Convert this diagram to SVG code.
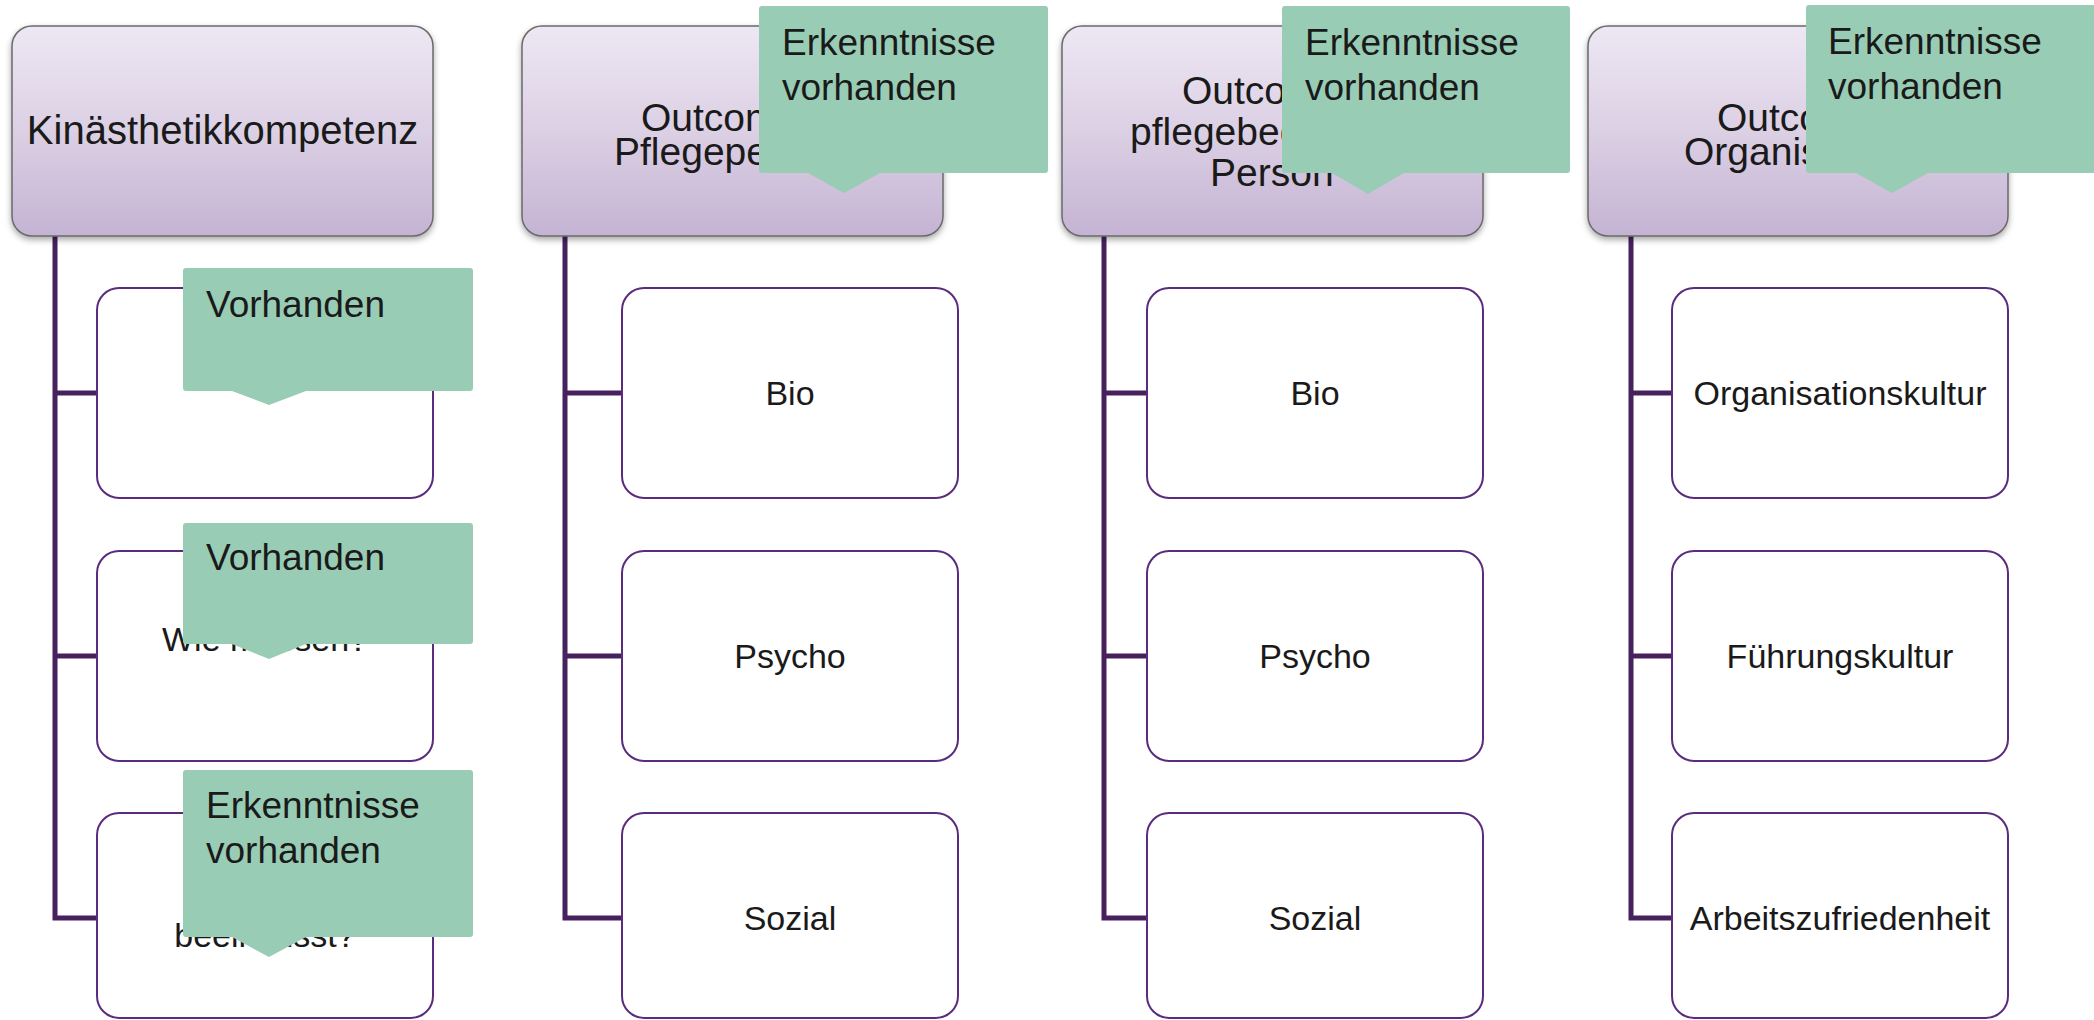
<svg xmlns="http://www.w3.org/2000/svg" width="2094" height="1020" viewBox="0 0 2094 1020">
<defs>
<linearGradient id="hdrGrad" x1="0" y1="0" x2="0" y2="1">
<stop offset="0" stop-color="#EDE7F3"/>
<stop offset="0.5" stop-color="#DCD0E4"/>
<stop offset="1" stop-color="#C4B3D3"/>
</linearGradient>
<filter id="shadow" x="-10%" y="-10%" width="120%" height="130%">
<feDropShadow dx="0" dy="3" stdDeviation="3" flood-color="#000" flood-opacity="0.35"/>
</filter>
<style>
.hdr{fill:url(#hdrGrad);stroke:#6A6A6A;stroke-width:1.5;filter:url(#shadow)}
.child{fill:#FFFFFF;stroke:#5B2C7E;stroke-width:2}
.conn{fill:none;stroke:#47205E;stroke-width:5;stroke-linejoin:miter}
.call{fill:#99CCB5}
text{font-family:"Liberation Sans",Arial,sans-serif;fill:#1A1A1A}
.ht{font-size:39px}
.ht1{font-size:40px}
.ct{font-size:34px;text-anchor:middle}
.lt{font-size:37px}
</style>
</defs>
<rect width="2094" height="1020" fill="#FFFFFF"/>

<g id="connectors">
<path class="conn" d="M55 236 V918 H97 M55 393 H97 M55 656 H97"/>
<path class="conn" d="M565 236 V918 H622 M565 393 H622 M565 656 H622"/>
<path class="conn" d="M1104 236 V918 H1147 M1104 393 H1147 M1104 656 H1147"/>
<path class="conn" d="M1631 236 V918 H1672 M1631 393 H1672 M1631 656 H1672"/>
</g>

<g id="header1"><rect class="hdr" x="12" y="26" width="421" height="210" rx="20"/><text class="ht1" x="222.5" y="144" text-anchor="middle">Kinästhetikkompetenz</text></g>
<g id="header2"><rect class="hdr" x="522" y="26" width="421" height="210" rx="20"/><text class="ht" x="641" y="131">Outcome</text><text class="ht" x="614" y="165">Pflegepersonal</text></g>
<g id="header3"><rect class="hdr" x="1062" y="26" width="421" height="210" rx="20"/><text class="ht" x="1182" y="104">Outcome</text><text class="ht" x="1130" y="145">pflegebedürftige</text><text class="ht" x="1210" y="186">Person</text></g>
<g id="header4"><rect class="hdr" x="1588" y="26" width="420" height="210" rx="20"/><text class="ht" x="1717" y="131">Outcome</text><text class="ht" x="1684" y="165">Organisation</text></g>

<g id="c1b1"><rect class="child" x="97" y="288" width="336" height="210" rx="22"/></g>
<g id="c1b2"><rect class="child" x="97" y="551" width="336" height="210" rx="22"/><text class="ct" x="265" y="651">Wie messen?</text></g>
<g id="c1b3"><rect class="child" x="97" y="813" width="336" height="205" rx="22"/><text class="ct" x="265" y="947">beeinflusst?</text></g>

<g id="c2b1"><rect class="child" x="622" y="288" width="336" height="210" rx="22"/><text class="ct" x="790" y="405">Bio</text></g>
<g id="c2b2"><rect class="child" x="622" y="551" width="336" height="210" rx="22"/><text class="ct" x="790" y="668">Psycho</text></g>
<g id="c2b3"><rect class="child" x="622" y="813" width="336" height="205" rx="22"/><text class="ct" x="790" y="930">Sozial</text></g>

<g id="c3b1"><rect class="child" x="1147" y="288" width="336" height="210" rx="22"/><text class="ct" x="1315" y="405">Bio</text></g>
<g id="c3b2"><rect class="child" x="1147" y="551" width="336" height="210" rx="22"/><text class="ct" x="1315" y="668">Psycho</text></g>
<g id="c3b3"><rect class="child" x="1147" y="813" width="336" height="205" rx="22"/><text class="ct" x="1315" y="930">Sozial</text></g>

<g id="c4b1"><rect class="child" x="1672" y="288" width="336" height="210" rx="22"/><text class="ct" x="1840" y="405">Organisationskultur</text></g>
<g id="c4b2"><rect class="child" x="1672" y="551" width="336" height="210" rx="22"/><text class="ct" x="1840" y="668">Führungskultur</text></g>
<g id="c4b3"><rect class="child" x="1672" y="813" width="336" height="205" rx="22"/><text class="ct" x="1840" y="930">Arbeitszufriedenheit</text></g>

<g id="callout1"><path class="call" d="M186 268 H470 Q473 268 473 271 V388 Q473 391 470 391 H306 L269 405 L232 391 H186 Q183 391 183 388 V271 Q183 268 186 268 Z"/><text class="lt" x="206" y="317">Vorhanden</text></g>
<g id="callout2"><path class="call" d="M186 523 H470 Q473 523 473 526 V641 Q473 644 470 644 H306 L269 659 L232 644 H186 Q183 644 183 641 V526 Q183 523 186 523 Z"/><text class="lt" x="206" y="570">Vorhanden</text></g>
<g id="callout3"><path class="call" d="M186 770 H470 Q473 770 473 773 V934 Q473 937 470 937 H306 L269 957 L232 937 H186 Q183 937 183 934 V773 Q183 770 186 770 Z"/><text class="lt" x="206" y="818">Erkenntnisse</text><text class="lt" x="206" y="863">vorhanden</text></g>
<g id="callout4"><path class="call" d="M762 6 H1045 Q1048 6 1048 9 V170 Q1048 173 1045 173 H880 L844 193 L808 173 H762 Q759 173 759 170 V9 Q759 6 762 6 Z"/><text class="lt" x="782" y="55">Erkenntnisse</text><text class="lt" x="782" y="100">vorhanden</text></g>
<g id="callout5"><path class="call" d="M1285 6 H1567 Q1570 6 1570 9 V170 Q1570 173 1567 173 H1404 L1368 194 L1332 173 H1285 Q1282 173 1282 170 V9 Q1282 6 1285 6 Z"/><text class="lt" x="1305" y="55">Erkenntnisse</text><text class="lt" x="1305" y="100">vorhanden</text></g>
<g id="callout6"><path class="call" d="M1809 5 H2094 V173 H1928 L1892 193 L1856 173 H1809 Q1806 173 1806 170 V8 Q1806 5 1809 5 Z"/><text class="lt" x="1828" y="54">Erkenntnisse</text><text class="lt" x="1828" y="99">vorhanden</text></g>
</svg>
